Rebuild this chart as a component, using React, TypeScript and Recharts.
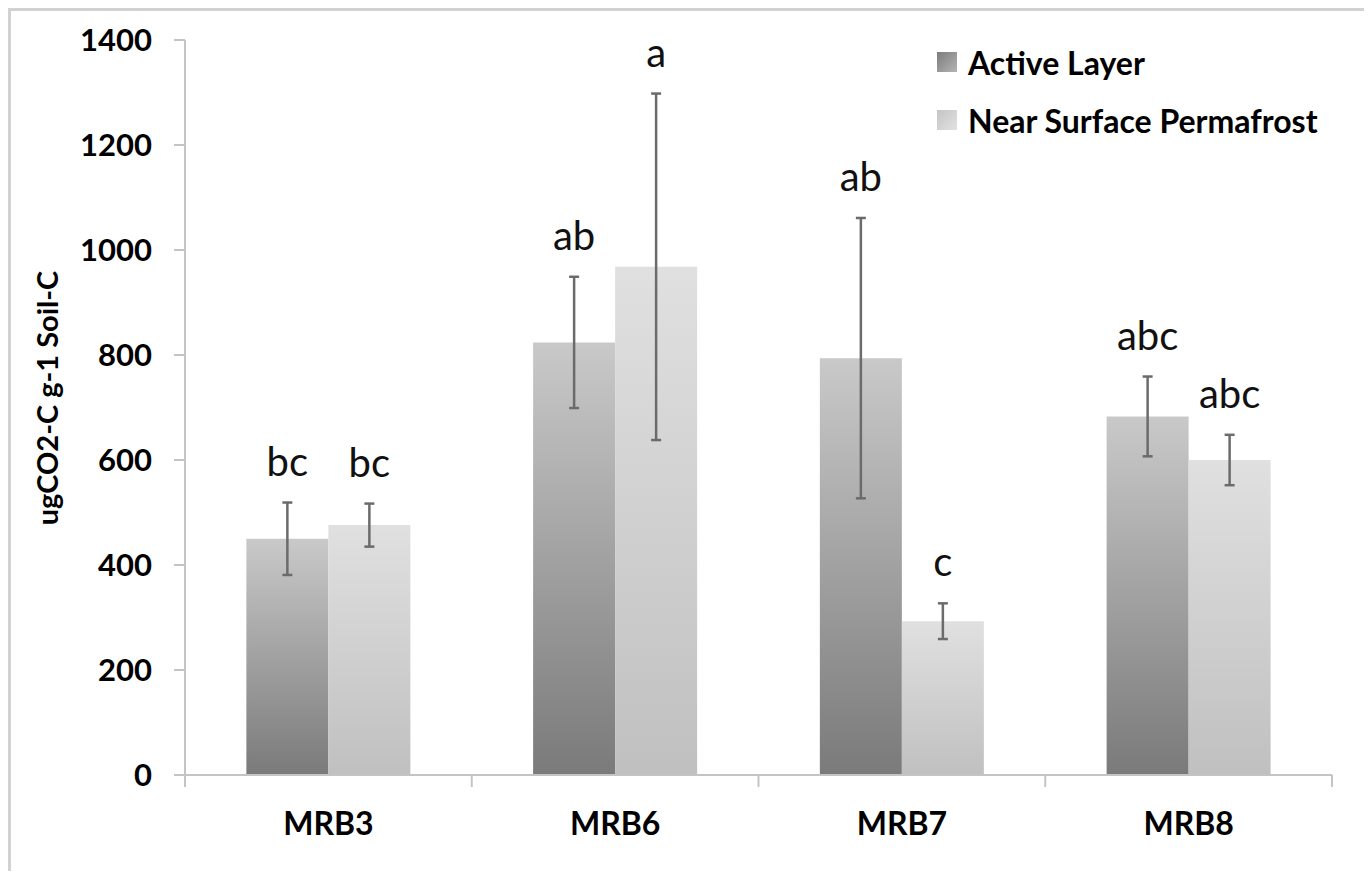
import React from 'react';
import { BarChart, Bar, XAxis, YAxis, ErrorBar, LabelList } from 'recharts';

// values
const categories = ['MRB3', 'MRB6', 'MRB7', 'MRB8'];
const activeLayer = [450, 824, 794, 683];
const activeErr = [69, 125, 267, 76];
const permafrost = [476, 968, 293, 600];
const permafrostErr = [41, 330, 34, 48];
const activeLetters = ['bc', 'ab', 'ab', 'abc'];
const permafrostLetters = ['bc', 'a', 'c', 'abc'];
const yTicks = [0, 200, 400, 600, 800, 1000, 1200, 1400];

const seriesNames = ['Active Layer', 'Near Surface Permafrost'];

const data = categories.map((name, i) => ({
  name,
  active: activeLayer[i],
  activeErr: activeErr[i],
  activeLetter: activeLetters[i],
  permafrost: permafrost[i],
  permafrostErr: permafrostErr[i],
  permafrostLetter: permafrostLetters[i],
}));

const W = 1362;
const H = 871;
const MARGIN = { top: 32, right: 38, left: 0, bottom: 0 };
const Y_AXIS_W = 177;
const PLOT_W = W - MARGIN.right - Y_AXIS_W;
const AXIS_COLOR = '#c4c4c4';
const FONT = 'Lato, "Open Sans", sans-serif';

function CategoryTick(props: any) {
  const { x, y, payload, index } = props;
  const half = PLOT_W / categories.length / 2;
  return (
    <g>
      <line x1={x - half} y1={y} x2={x - half} y2={y + 12} stroke={AXIS_COLOR} strokeWidth={2} />
      {index === categories.length - 1 && (
        <line x1={x + half} y1={y} x2={x + half} y2={y + 12} stroke={AXIS_COLOR} strokeWidth={2} />
      )}
      <text x={x} y={y + 49} dy="0.35em" textAnchor="middle" fill="#000" fontFamily={FONT} fontWeight={700} fontSize={32}>
        {payload.value}
      </text>
    </g>
  );
}

// letter sits above the top of the error bar
function letterLabel(means: number[], errs: number[]) {
  return (props: any) => {
    const { x, y, width, height, value, index } = props;
    const perUnit = height / means[index];
    const errTop = y - errs[index] * perUnit;
    return (
      <text x={x + width / 2} y={errTop - 27} textAnchor="middle" fill="#111" fontFamily={FONT} fontSize={40}>
        {value}
      </text>
    );
  };
}

function LegendBox() {
  const swatches = [
    'linear-gradient(135deg, #7c7c7c, #b4b4b4)',
    'linear-gradient(135deg, #c4c4c4, #e2e2e2)',
  ];
  return (
    <div
      style={{
        position: 'absolute', left: 929, top: 25,
        fontFamily: FONT, fontWeight: 700, fontSize: 32, color: '#000',
      }}
    >
      {seriesNames.map((n, i) => (
        <div key={n} style={{ display: 'flex', alignItems: 'center', height: 58, whiteSpace: 'nowrap' }}>
          <span style={{ width: 20, height: 20, background: swatches[i], marginRight: 11, display: 'inline-block' }} />
          <span>{n}</span>
        </div>
      ))}
    </div>
  );
}

export default function App() {
  return (
    <div style={{ position: 'relative', width: W, height: H, marginBottom: -8, background: '#fff' }}>
      <div
        style={{
          position: 'absolute', left: 0, top: 0, width: W, height: H, boxSizing: 'border-box',
          borderTop: '3px solid #d2d2d2', borderLeft: '3px solid #d2d2d2', borderRight: '3px solid #d2d2d2',
          pointerEvents: 'none',
        }}
      />
      <BarChart width={W} height={H} data={data} margin={MARGIN} barCategoryGap="21.4%" barGap={0}>
        <defs>
          <linearGradient id="gradActive" x1="0" y1="0" x2="0" y2="1">
            <stop offset="0%" stopColor="#c9c9c9" />
            <stop offset="100%" stopColor="#7a7a7a" />
          </linearGradient>
          <linearGradient id="gradPerma" x1="0" y1="0" x2="0" y2="1">
            <stop offset="0%" stopColor="#e0e0e0" />
            <stop offset="100%" stopColor="#c0c0c0" />
          </linearGradient>
        </defs>
        <XAxis
          dataKey="name"
          height={H - MARGIN.top - 735}
          axisLine={{ stroke: AXIS_COLOR, strokeWidth: 2 }}
          tickLine={false}
          tickSize={0}
          tickMargin={0}
          tick={<CategoryTick />}
          interval={0}
        />
        <YAxis
          width={Y_AXIS_W}
          domain={[0, 1400]}
          ticks={yTicks}
          interval={0}
          axisLine={{ stroke: AXIS_COLOR, strokeWidth: 2 }}
          tickLine={{ stroke: AXIS_COLOR, strokeWidth: 2 }}
          tickSize={11}
          tickMargin={22}
          tick={{ fill: '#000', fontFamily: FONT, fontWeight: 700, fontSize: 31 }}
          label={{
            content: () => (
              <text
                x={38}
                y={390}
                transform="rotate(-90 38 390)"
                textAnchor="middle"
                dominantBaseline="central"
                fill="#000"
                fontFamily={FONT}
                fontWeight={700}
                fontSize={29}
              >
                ugCO2-C g-1 Soil-C
              </text>
            ),
          }}
        />
        <Bar dataKey="active" name={seriesNames[0]} fill="url(#gradActive)" isAnimationActive={false}>
          <ErrorBar dataKey="activeErr" width={5} stroke="#6b6b6b" strokeWidth={2.5} />
          <LabelList dataKey="activeLetter" content={letterLabel(activeLayer, activeErr)} />
        </Bar>
        <Bar dataKey="permafrost" name={seriesNames[1]} fill="url(#gradPerma)" isAnimationActive={false}>
          <ErrorBar dataKey="permafrostErr" width={5} stroke="#6b6b6b" strokeWidth={2.5} />
          <LabelList dataKey="permafrostLetter" content={letterLabel(permafrost, permafrostErr)} />
        </Bar>
      </BarChart>
      <LegendBox />
    </div>
  );
}
